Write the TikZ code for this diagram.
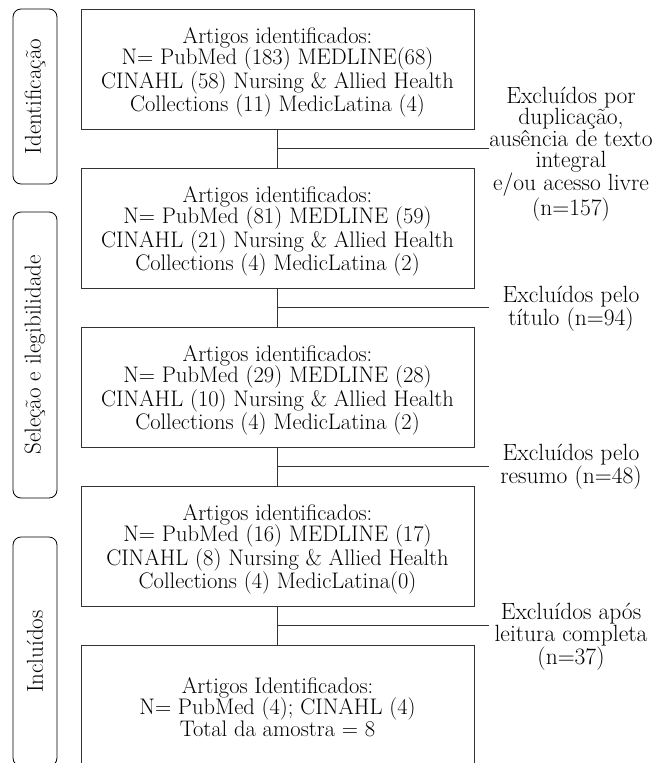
\documentclass[tikz,border=0pt]{standalone}
\usetikzlibrary{calc}
\begin{document}
\begin{tikzpicture}[x=1pt,y=-1pt,
  txt/.style={font=\fontsize{22.5}{21.5}\selectfont, align=center, inner sep=0pt},
  box/.style={draw=black!80, line width=0.9pt, minimum width=393pt, minimum height=120pt, inner sep=0pt},
  side/.style={font=\fontsize{23}{24}\selectfont, draw=black, rounded corners=8pt, line width=0.8pt, minimum height=44pt, inner sep=0pt, rotate=90},
  lab/.style={font=\fontsize{23.5}{21.5}\selectfont, align=center, inner sep=0pt},
  conn/.style={draw=black!80, line width=0.9pt}]
\useasboundingbox (0,0) rectangle (670,763);
\clip (0,0) rectangle (670,763);
% side stage boxes
\node[side, minimum width=175pt] (s1) at (35,96.5) {Identificação};
\node[side, minimum width=286pt] (s2) at (35,355) {Seleção e ilegibilidade};
\node[side, minimum width=229pt] (s3) at (35,651.5) {Incluídos};
% main boxes
\node[box] (b1) at (277.5,69) {};
\node[box] (b2) at (277.5,228) {};
\node[box] (b3) at (277.5,387) {};
\node[box] (b4) at (277.5,546) {};
\node[box, minimum height=121pt] (b5) at (277.5,705.5) {};
\node[txt] (t1) at ($(b1.center)+(0,3.5)$) {Artigos identificados:\\N= PubMed (183) MEDLINE(68)\\CINAHL (58) Nursing \& Allied Health\\Collections (11) MedicLatina (4)};
\node[txt] (t2) at ($(b2.center)+(0,3.5)$) {Artigos identificados:\\N= PubMed (81) MEDLINE (59)\\CINAHL (21) Nursing \& Allied Health\\Collections (4) MedicLatina (2)};
\node[txt] (t3) at ($(b3.center)+(0,3.5)$) {Artigos identificados:\\N= PubMed (29) MEDLINE (28)\\CINAHL (10) Nursing \& Allied Health\\Collections (4) MedicLatina (2)};
\node[txt] (t4) at ($(b4.center)+(0,3.5)$) {Artigos identificados:\\N= PubMed (16) MEDLINE (17)\\CINAHL (8) Nursing \& Allied Health\\Collections (4) MedicLatina(0)};
\node[txt] (t5) at ($(b5.center)+(0,1.5)$) {Artigos Identificados:\\N= PubMed (4); CINAHL (4)\\Total da amostra = 8};
% exclusion labels
\node[lab] (l1) at (571,154) {Excluídos por\\duplicação,\\ausência de texto\\integral\\e/ou acesso livre\\(n=157)};
\node[lab] (l2) at (571,309) {Excluídos pelo\\título (n=94)};
\node[lab] (l3) at (571,467) {Excluídos pelo\\resumo (n=48)};
\node[lab] (l4) at (571,637) {Excluídos após\\leitura completa\\(n=37)};
% connectors
\foreach \a/\b/\n in {b1/b2/1, b2/b3/2, b3/b4/3, b4/b5/4}{
  \draw[conn] (\a.south) -- (\b.north);
  \coordinate (m\n) at ($(\a.south)!0.5!(\b.north)$);
  \coordinate (e\n) at (489,0);
  \draw[conn] (m\n) -- (m\n -| e\n);
}
\end{tikzpicture}
\end{document}
